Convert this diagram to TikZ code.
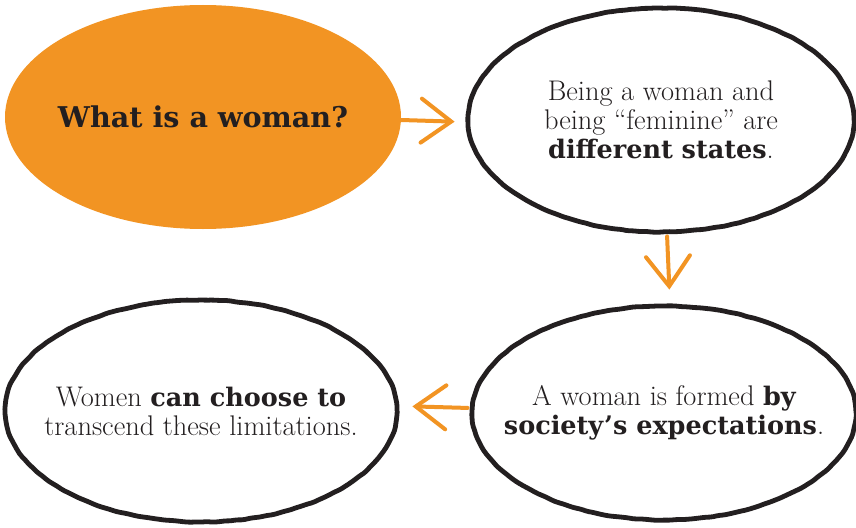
\documentclass[tikz,border=0pt]{standalone}
\usepackage{fontspec}
\newfontfamily\heavy{DejaVu Serif}
\usetikzlibrary{shapes.geometric,arrows.meta,decorations.pathmorphing}
\definecolor{orng}{HTML}{F29423}
\definecolor{ink}{HTML}{231F20}
\newcommand{\hb}[1]{{\heavy\bfseries\fontsize{25.5}{29}\selectfont #1}}
\tikzset{
  sketch/.style={ellipse, draw=ink, line width=4.8pt, fill=white,
    inner xsep=-60pt, inner ysep=-10pt,
    decorate, decoration={random steps, segment length=6pt, amplitude=0.4pt},
    rounded corners=2pt, align=center, text=ink,
    font=\fontsize{28.4}{29}\selectfont},
  qnode/.style={ellipse, fill=orng, draw=none, inner xsep=-60pt, inner ysep=-10pt, text=ink,
    font=\heavy\bfseries\fontsize{28.6}{32}\selectfont},
  flow/.style={draw=orng, line width=4pt, line cap=round,
    -{Straight Barb[length=30pt,width=44pt,line cap=round]}}
}
\begin{document}
\begin{tikzpicture}[x=1pt,y=-1pt]
\useasboundingbox (0,0) rectangle (856,527);
\fill[white] (0,0) rectangle (856,527);
\node[qnode, minimum width=396pt, minimum height=224pt] (q) at (203,117) {What is a woman?};
\node[sketch, minimum width=386pt, minimum height=224pt] (s1) at (661,120)
  {Being a woman and\\ being ``feminine'' are\\ \hb{different states}.};
\node[sketch, minimum width=384pt, minimum height=214pt] (s2) at (664,413)
  {A woman is formed \hb{by}\\ \hb{society’s expectations}.};
\node[sketch, minimum width=392pt, minimum height=222pt] (s3) at (201,411)
  {Women \hb{can choose to}\\ transcend these limitations.};
\draw[flow, shorten >=11pt] ([yshift=-3pt]q.east) -- ([yshift=-2pt]s1.west);
\draw[flow, shorten >=14pt, shorten <=2pt] ([xshift=6pt]s1.south) -- ([xshift=6pt]s2.north);
\draw[flow, shorten >=13pt, shorten <=2pt] ([yshift=5pt]s2.west) -- ([yshift=5pt]s3.east);
\end{tikzpicture}
\end{document}
